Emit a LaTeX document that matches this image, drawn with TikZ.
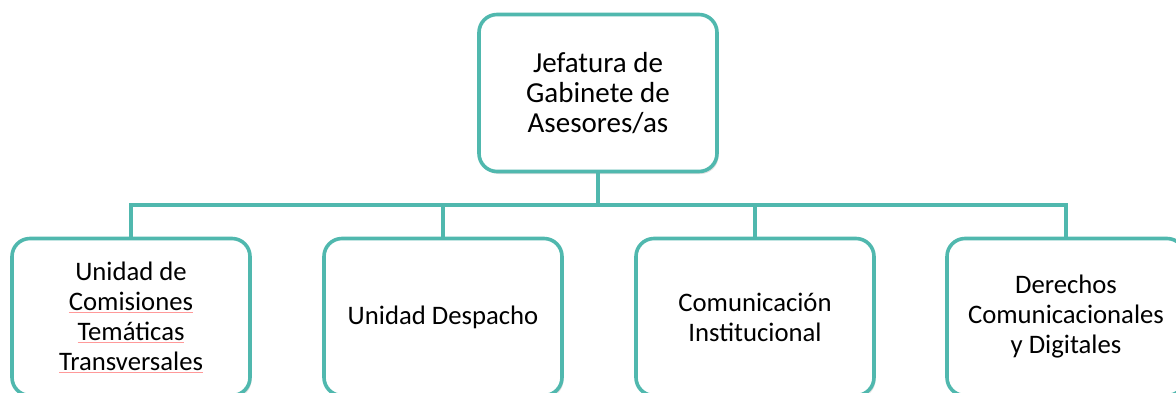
\documentclass[tikz,border=0pt]{standalone}
\usepackage{fontspec}
\setmainfont{Carlito}
\usepackage{tikz}
\usetikzlibrary{calc,positioning,shadows}
\definecolor{tealline}{RGB}{80,184,174}
\newcommand{\spellmark}[1]{\textcolor{red!40}{\underline{\textcolor{black}{#1}}}}
\tikzset{
  unit/.style={draw=tealline,line width=3.6pt,rounded corners=18pt,fill=white,
    minimum width=238pt,minimum height=157pt,align=center,
    font=\fontsize{26.7}{30}\selectfont,
    drop shadow={opacity=0.25,shadow xshift=1.5pt,shadow yshift=-2.5pt}},
  conn/.style={draw=tealline,line width=3.6pt}
}
\begin{document}
\begin{tikzpicture}
\useasboundingbox (0,0) rectangle (1176pt,-392pt);
\clip (0,0) rectangle (1176pt,-392pt);
\coordinate (bus) at (598pt,-205pt);
\node[unit,font=\fontsize{29}{30}\selectfont] (jefe) at (598pt,-93pt) {Jefatura de\\Gabinete de\\Asesores/as};
\node[unit] (uct) at (131pt,-317pt) {Unidad de\\\spellmark{Comisiones}\\\spellmark{Temáticas}\\\spellmark{Transversales}};
\node[unit] (ud) at (443pt,-317pt) {Unidad Despacho};
\node[unit] (ci) at (755pt,-317pt) {Comunicación\\Institucional};
\node[unit] (dcd) at (1066pt,-317pt) {Derechos\\Comunicacionales\\y Digitales};
\draw[conn] (jefe.south) -- (bus);
\draw[conn] (uct.north) |- (bus) -| (dcd.north);
\draw[conn] (ud.north) -- (ud.north |- bus);
\draw[conn] (ci.north) -- (ci.north |- bus);
\end{tikzpicture}
\end{document}
